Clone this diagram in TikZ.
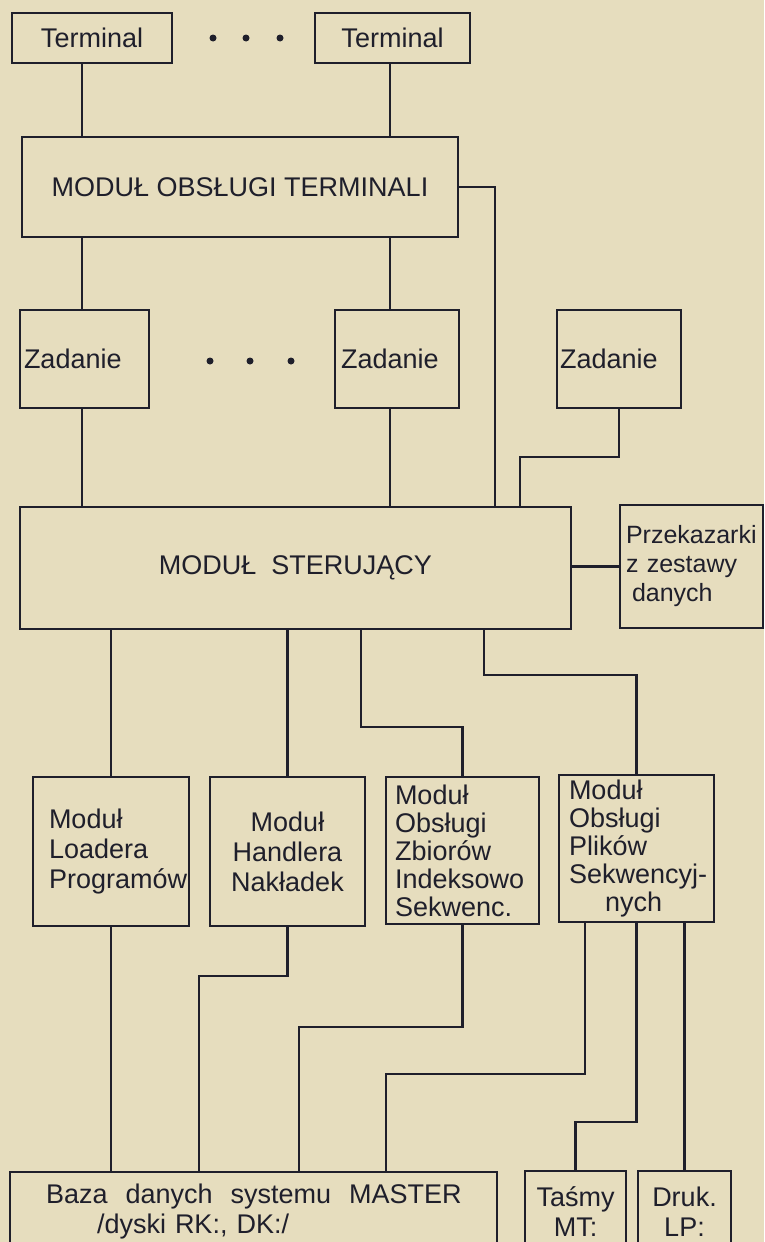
\documentclass[tikz,border=0pt]{standalone}
\usepackage{fontspec}
\setmainfont{Liberation Sans}

\definecolor{papier}{HTML}{E6DDBE}
\definecolor{tusz}{HTML}{1F1F2B}

\tikzset{
  blok/.style={draw=tusz, line width=2.2pt, inner sep=0pt, text=tusz},
  linia/.style={draw=tusz, line width=2.2pt},
  kropka/.style={fill=tusz, circle, inner sep=0pt, minimum size=7pt},
  ciasny/.style={font=\fontsize{27}{28}\selectfont},
}

\begin{document}
\begin{tikzpicture}[x=1pt, y=-1pt, font=\fontsize{27}{30}\selectfont]
\fill[papier] (0,0) rectangle (764,1242);
\useasboundingbox (0,0) rectangle (764,1242);
% terminale
\node[blok, minimum width=160pt, minimum height=50pt] (term1) at (92,38) {Terminal};
\node[blok, minimum width=155pt, minimum height=50pt] (term2) at (392.5,38) {Terminal};
\foreach \x [count=\i] in {213,246,280}
  \node[kropka] (kg\i) at (\x,38) {};
\node[blok, minimum width=436pt, minimum height=100pt] (mot) at (240,187) {MODUŁ OBSŁUGI TERMINALI};
% zadania
\node[blok, minimum width=129pt, minimum height=98pt, text width=121pt, align=left] (zad1) at (84.5,359) {Zadanie};
\node[blok, minimum width=124pt, minimum height=98pt, text width=112pt, align=left] (zad2) at (397,359) {Zadanie};
\node[blok, minimum width=124pt, minimum height=98pt, text width=118pt, align=left] (zad3) at (619,359) {Zadanie};
\foreach \x [count=\i] in {210,250,291}
  \node[kropka] (ks\i) at (\x,361) {};
\node[blok, minimum width=551pt, minimum height=122pt] (ster) at (295.5,568) {MODUŁ\ \ STERUJĄCY};
\node[blok, minimum width=143pt, minimum height=123pt, text width=131pt, align=left, font=\fontsize{25}{29}\selectfont] (prz) at (691.5,566.5) {\mbox{Przekazarki}\\\mbox{z zestawy}\\\mbox{\hspace*{6pt}danych}};
% moduly obslugi
\node[blok, minimum width=156pt, minimum height=149pt, text width=124pt, align=left] (lad) at (111,851.5) {Moduł\\Loadera\\\mbox{Programów}};
\node[blok, minimum width=155pt, minimum height=149pt, align=center] (han) at (287.5,851.5) {Moduł\\Handlera\\Nakładek};
\node[blok, ciasny, minimum width=153pt, minimum height=147pt, text width=135pt, align=left] (zbi) at (462.5,850.5) {Moduł\\Obsługi\\Zbiorów\\\mbox{Indeksowo}\\\mbox{Sekwenc.}};
\node[blok, ciasny, minimum width=155pt, minimum height=147pt, text width=135pt, align=left] (pli) at (636.5,848.5) {Moduł\\Obsługi\\Plików\\\mbox{Sekwencyj-}\\\mbox{\hspace*{36pt}nych}};
% urzadzenia
\node[blok, minimum width=487pt, minimum height=80pt, text width=415pt, align=left] (baza) at (253.5,1212) {\mbox{Baza\ \ danych\ \ systemu\ \ MASTER}\\\mbox{\hspace*{51pt}/dyski RK:, DK:/}};
\node[blok, minimum width=101pt, minimum height=81pt, align=center] (tas) at (575.5,1211.5) {Taśmy\\MT:};
\node[blok, minimum width=93pt, minimum height=81pt, align=center] (druk) at (684.5,1211.5) {Druk.\\LP:};
% polaczenia
\draw[linia] ([xshift=-10pt]term1.south) -- ([xshift=-10pt]term1.south |- mot.north);
\draw[linia] ([xshift=-2.5pt]term2.south) -- ([xshift=-2.5pt]term2.south |- mot.north);
\draw[linia] ([xshift=-158pt]mot.south) -- ([xshift=-158pt]mot.south |- zad1.north);
\draw[linia] ([xshift=150pt]mot.south) -- ([xshift=150pt]mot.south |- zad2.north);
\draw[linia] ([xshift=-2.5pt]zad1.south) -- ([xshift=-2.5pt]zad1.south |- ster.north);
\draw[linia] ([xshift=-7pt]zad2.south) -- ([xshift=-7pt]zad2.south |- ster.north);
\draw[linia] (mot.east) -| ([xshift=199.5pt]ster.north);
\draw[linia] (zad3.south) -- ++(0,48) -| ([xshift=224.5pt]ster.north);
\draw[linia] (ster.east |- prz.west) -- (prz.west);
\draw[linia] (ster.south -| lad.north) -- (lad.north);
\draw[linia] (ster.south -| han.north) -- (han.north);
\draw[linia] ([xshift=65.5pt]ster.south) |- ([yshift=49pt]zbi.north) -- (zbi.north);
\draw[linia] ([xshift=188.5pt]ster.south) |- ([yshift=99pt]pli.north) -- (pli.north);
\draw[linia] (lad.south) -- (lad.south |- baza.north);
\draw[linia] (han.south) -- ++(0,49) -| ([xshift=-54.5pt]baza.north);
\draw[linia] (zbi.south) -- ++(0,102) -| ([xshift=45.5pt]baza.north);
\draw[linia] ([xshift=-51.5pt]pli.south) -- ++(0,151) -| ([xshift=132.5pt]baza.north);
\draw[linia] (pli.south) -- ++(0,199) -| (tas.north);
\draw[linia] (pli.south -| druk.north) -- (druk.north);
\end{tikzpicture}
\end{document}
